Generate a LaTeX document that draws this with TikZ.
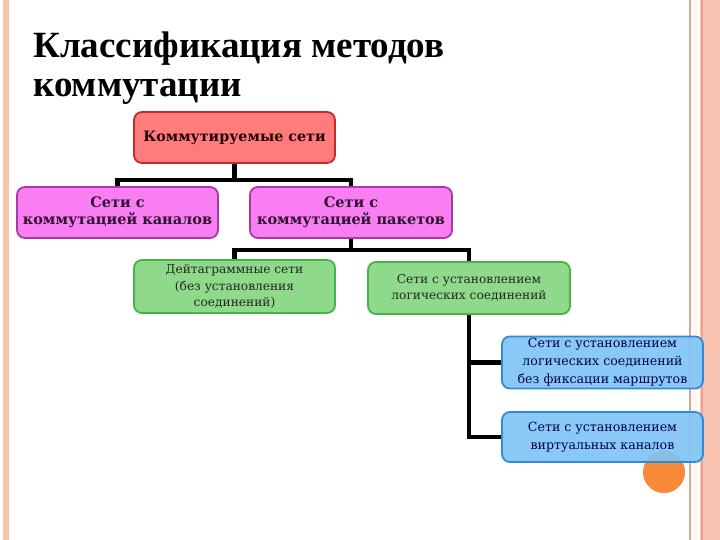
\documentclass[tikz,border=0pt]{standalone}
\usepackage{fontspec}
\setmainfont{Liberation Serif}
\newfontfamily\boxbold{DejaVu Serif}
\newfontfamily\boxlight{DejaVu Serif}
\definecolor{salmon}{HTML}{F8C3B0}
\definecolor{salmondk}{HTML}{F0A48C}
\definecolor{redfill}{HTML}{FF7C7C}
\definecolor{redline}{HTML}{C42A2A}
\definecolor{magfill}{HTML}{F87EF2}
\definecolor{magline}{HTML}{A63AA6}
\definecolor{grnfill}{HTML}{8FDA8A}
\definecolor{grnline}{HTML}{45B345}
\definecolor{blufill}{HTML}{7EC4F4}
\definecolor{bluline}{HTML}{3489D6}
\definecolor{orng}{HTML}{F78A3A}
\tikzset{
  base/.style={rectangle, rounded corners=8pt, line width=1.8pt, align=center, inner sep=2pt},
  topbox/.style={base, fill=redfill, draw=redline, text=black!85!red, font=\boxbold\bfseries\fontsize{14.3}{17}\selectfont},
  magbox/.style={base, fill=magfill, draw=magline, text=black!70!magline, font=\boxbold\bfseries\fontsize{14.5}{17}\selectfont},
  grnbox/.style={base, fill=grnfill, draw=grnline, text=black!85, font=\boxlight\fontsize{12.2}{16.5}\selectfont},
  blubox/.style={base, fill=blufill, draw=bluline, fill opacity=0.9, text opacity=1, text=black!70!blue, font=\boxlight\fontsize{12.6}{18}\selectfont},
  conn/.style={line width=4.5pt, black},
  ttl/.style={anchor=base west, font=\bfseries\fontsize{37}{39}\selectfont, inner sep=0pt}
}
\begin{document}
\begin{tikzpicture}[x=1pt,y=-1pt]
\useasboundingbox (0,0) rectangle (720,540);
\fill[white] (0,0) rectangle (720,540);
% side stripes
\fill[salmon] (3,0) rectangle (9,540);
\fill[black!15!salmon] (688.5,0) rectangle (690.5,540);
\fill[orange!8] (693,0) rectangle (697,540);
\fill[salmon] (700,0) rectangle (720,540);
\fill[salmondk] (701,0) rectangle (703,540);
% title
\node[ttl] (t1) at (33,58) {Классификация методов};
\node[ttl] (t2) at (33,97) {коммутации};
% orange circle
\fill[orng] (664,472) circle (21);
% boxes
\node[topbox, minimum width=201pt, minimum height=51pt] (top) at (234.5,137.5) {Коммутируемые сети};
\node[magbox, minimum width=201pt, minimum height=51pt] (mL) at (117.5,212.5) {Сети с\\коммутацией каналов};
\node[magbox, minimum width=202pt, minimum height=51pt] (mR) at (351,212.5) {Сети с\\коммутацией пакетов};
\node[grnbox, minimum width=201pt, minimum height=53pt] (gL) at (234.5,286.5) {Дейтаграммные сети\\(без установления\\соединений)};
\node[grnbox, minimum width=202pt, minimum height=52pt] (gR) at (469,288) {Сети с установлением\\логических соединений};
\node[blubox, minimum width=201pt, minimum height=51pt] (b1) at (602.5,362.5) {Сети с установлением\\логических соединений\\без фиксации маршрутов};
\node[blubox, minimum width=201pt, minimum height=50pt] (b2) at (602.5,437) {Сети с установлением\\виртуальных каналов};
% connectors
\coordinate (j1) at (234.5,180);
\coordinate (j2) at (351,250);
\draw[conn] (top.south) -- (j1);
\draw[conn] (mL.north) |- (j1) -| (mR.north);
\draw[conn] (mR.south) -- (j2);
\draw[conn] (gL.north) |- (j2) -| (gR.north);
\draw[conn] (gR.south) |- (b2.west);
\draw[conn] (gR.south |- b1.west) -- (b1.west);
\end{tikzpicture}
\end{document}
